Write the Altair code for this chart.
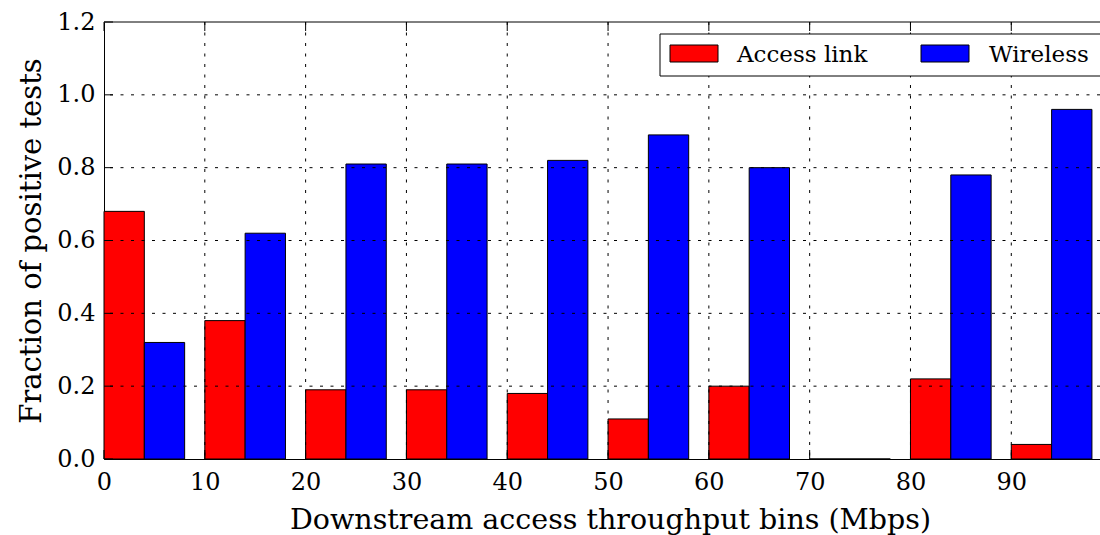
import altair as alt
import pandas as pd

# Throughput bins (Mbps), lower edge of each 10 Mbps bin
bins = [0, 10, 20, 30, 40, 50, 60, 70, 80, 90]
# Fraction of positive tests per bin
access_link = [0.68, 0.38, 0.19, 0.19, 0.18, 0.11, 0.20, 0.0, 0.22, 0.04]
wireless = [0.32, 0.62, 0.81, 0.81, 0.82, 0.89, 0.80, 0.0, 0.78, 0.96]

series_names = ["Access link", "Wireless"]
series_colors = ["#ff0000", "#0000ff"]

x_ticks = [0, 10, 20, 30, 40, 50, 60, 70, 80, 90]
y_ticks = [0.0, 0.2, 0.4, 0.6, 0.8, 1.0, 1.2]
x_grid = [10, 20, 30, 40, 50, 60, 70, 80, 90]
y_grid = [0.2, 0.4, 0.6, 0.8, 1.0]

BAR_W = 4  # two 4 Mbps wide bars side by side in every bin
FONT = "DejaVu Serif"
W, H = 996, 437
TICK = 9

rows = []
for b, a, w in zip(bins, access_link, wireless):
    rows.append({"series": series_names[0], "start": b, "end": b + BAR_W, "value": a})
    rows.append({"series": series_names[1], "start": b + BAR_W, "end": b + 2 * BAR_W, "value": w})
bars_df = pd.DataFrame(rows)

x_scale = alt.Scale(domain=[0, 98.8], nice=False, zero=False)
y_scale = alt.Scale(domain=[0, 1.2], nice=False)
color_scale = alt.Scale(domain=series_names, range=series_colors)

x_axis = alt.Axis(
    values=x_ticks, format="d", ticks=False, grid=False, labelFlush=False,
    domainColor="black", domainWidth=1,
    labelFontSize=24, labelPadding=11,
    title="Downstream access throughput bins (Mbps)",
    titleFontSize=28.5, titlePadding=11, titleX=506,
)
y_axis = alt.Axis(
    values=y_ticks, format=".1f", ticks=False, grid=False, labelFlush=False,
    domainColor="black", domainWidth=1,
    labelFontSize=24, labelPadding=9,
    title="Fraction of positive tests",
    titleFontSize=29, titlePadding=10,
)

bars = alt.Chart(bars_df).mark_bar(stroke="black", strokeWidth=1, opacity=1).encode(
    x=alt.X("start:Q", scale=x_scale, axis=x_axis),
    x2="end:Q",
    y=alt.Y("value:Q", scale=y_scale, axis=y_axis),
    y2=alt.datum(0),
    color=alt.Color("series:N", scale=color_scale, legend=None),
)

dash = [3, 7.5]
vgrid = alt.Chart(pd.DataFrame({"tick": x_grid})).mark_rule(
    color="black", strokeWidth=1, strokeDash=dash
).encode(x=alt.X("tick:Q", scale=x_scale, axis=x_axis))
hgrid = alt.Chart(pd.DataFrame({"tick": y_grid})).mark_rule(
    color="black", strokeWidth=1, strokeDash=dash
).encode(y=alt.Y("tick:Q", scale=y_scale, axis=y_axis))

# inward ticks on bottom, top and left spines
xt_df = pd.DataFrame({"tick": x_ticks})
yt_df = pd.DataFrame({"tick": y_ticks})
bottom_ticks = alt.Chart(xt_df).mark_rule(color="black", strokeWidth=1).encode(
    x=alt.X("tick:Q", scale=x_scale, axis=x_axis), y=alt.value(H), y2=alt.value(H - TICK)
)
top_ticks = alt.Chart(xt_df).mark_rule(color="black", strokeWidth=1).encode(
    x=alt.X("tick:Q", scale=x_scale, axis=x_axis), y=alt.value(0), y2=alt.value(TICK)
)
left_ticks = alt.Chart(yt_df).mark_rule(color="black", strokeWidth=1).encode(
    y=alt.Y("tick:Q", scale=y_scale, axis=y_axis), x=alt.value(0), x2=alt.value(TICK)
)
top_spine = alt.Chart(pd.DataFrame({"k": [0]})).mark_rule(color="black", strokeWidth=1).encode(
    y=alt.value(0), x=alt.value(0), x2=alt.value(W + 20)
)

# legend box with swatches and labels
legend_box = alt.Chart(pd.DataFrame({"k": [0]})).mark_rect(
    fill="white", stroke="black", strokeWidth=1
).encode(x=alt.value(556), x2=alt.value(1010), y=alt.value(12), y2=alt.value(54))

legend_layers = [legend_box]
swatch_left = [566, 817]
label_left = [633, 885]
for name, sx, lx in zip(series_names, swatch_left, label_left):
    d = pd.DataFrame({"series": [name]})
    legend_layers.append(
        alt.Chart(d).mark_rect(stroke="black", strokeWidth=1).encode(
            x=alt.value(sx), x2=alt.value(sx + 48), y=alt.value(23), y2=alt.value(40),
            color=alt.Color("series:N", scale=color_scale, legend=None),
        )
    )
    legend_layers.append(
        alt.Chart(d).mark_text(
            font=FONT, fontSize=23, align="left", baseline="alphabetic", color="black"
        ).encode(x=alt.value(lx), y=alt.value(39.5), text="series:N")
    )

chart = alt.layer(
    bars, vgrid, hgrid, bottom_ticks, top_ticks, left_ticks, top_spine, *legend_layers
).properties(
    width=W,
    height=H,
    padding={"left": 104, "top": 22, "right": 0, "bottom": 76},
    autosize=alt.AutoSizeParams(type="none"),
    background="white",
).configure_view(stroke=None).configure_axis(
    labelFont=FONT, titleFont=FONT, labelColor="black", titleColor="black",
    titleFontWeight="normal",
)

chart.save("out.html", embed_options={"renderer": "svg", "actions": False})
